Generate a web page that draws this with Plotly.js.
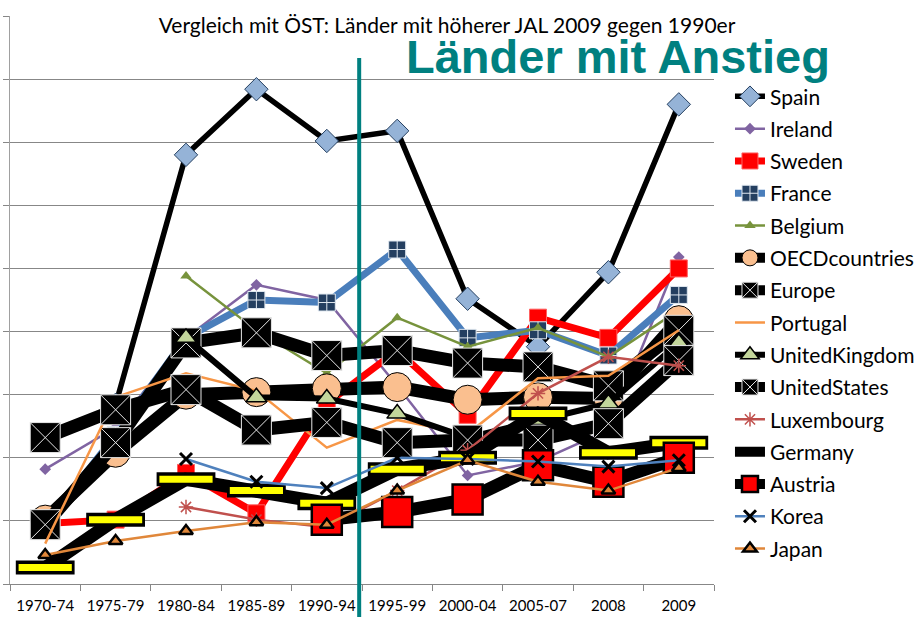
<!DOCTYPE html>
<html><head><meta charset="utf-8">
<script src="https://cdn.plot.ly/plotly-3.0.1.min.js"></script>
<style>html,body{margin:0;padding:0;background:#fff}#chart{width:922px;height:617px}</style>
</head><body><div id="chart"></div>
<script>
const categories = ["1970-74","1975-79","1980-84","1985-89","1990-94","1995-99","2000-04","2005-07","2008","2009"];
const spain    = [null,14.2,34.0,39.2,35.1,35.9,22.6,18.8,24.7,38.0];
const ireland  = [9.1,12.4,19.5,23.7,22.5,15.7,8.6,9.7,12.2,25.9];
const sweden   = [4.8,5.1,8.8,5.6,14.3,18.5,13.4,21.1,19.5,25.0];
const france   = [4.7,11.8,19.5,22.5,22.3,26.5,19.5,20.1,18.1,22.9];
const belgium  = [null,null,24.4,20.1,16.7,21.1,18.8,20.3,18.0,21.7];
const oecd     = [5.1,10.4,15.0,15.2,15.5,15.6,14.6,14.8,14.7,20.9];
const europe   = [4.7,11.2,19.1,19.9,18.1,18.5,17.5,17.2,15.7,20.1];
const portugal = [3.2,14.8,16.7,15.3,10.8,13.0,11.9,16.3,16.5,20.1];
const uk       = [null,null,19.5,14.8,14.7,13.5,11.6,13.0,14.3,19.1];
const us       = [11.6,13.8,15.4,12.2,12.8,11.2,11.4,11.4,12.7,17.7];
const luxembourg = [null,null,6.1,5.1,4.5,7.4,10.6,15.1,18.0,17.3];
const germany  = [1.3,5.1,8.3,7.4,6.4,9.1,10.0,13.5,10.4,11.2];
const austria  = [null,null,null,null,5.1,5.7,6.7,9.4,8.1,10.0];
const korea    = [null,null,9.9,8.1,7.6,10.0,9.9,9.7,9.3,9.8];
const japan    = [2.3,3.4,4.2,4.9,4.7,7.4,9.8,8.1,7.4,9.2];
const dividerPos = 4.46;

function tr(name, y, line, marker, extra) {
  const t = {type:'scatter', mode: marker ? 'lines+markers' : 'lines', name:name, x:categories, y:y,
    line:line, legendgroup:name, cliponaxis:false};
  if (marker) t.marker = marker;
  return Object.assign(t, extra||{});
}
const data = [
  tr('Spain', spain, {color:'#000000', width:5.5}, {symbol:'diamond', size:18, color:'#95B3D7', line:{color:'#243F60', width:1}}),
  tr('Ireland', ireland, {color:'#8064A2', width:2.5}, {symbol:'diamond', size:9, color:'#8064A2', line:{width:0}}),
  tr('Sweden', sweden, {color:'#FF0000', width:7}, {symbol:'square', size:17, color:'#FF0000', line:{color:'#FF6060', width:1}}),
  tr('France', france, {color:'#4A7EBB', width:7}, {symbol:'square-cross', size:17, color:'#243F60', line:{color:'#E0E8F0', width:1}}),
  tr('Belgium', belgium, {color:'#77933C', width:2.5}, {symbol:'triangle-up', size:10, color:'#77933C', line:{width:0}}),
  tr('OECDcountries', oecd, {color:'#000000', width:13}, {symbol:'circle', size:29, color:'#FABF8F', line:{color:'#000000', width:1}}),
  tr('Europe', europe, {color:'#000000', width:13}, {symbol:'square-x', size:30, color:'#000000', line:{color:'#E8E8E8', width:1}}),
  tr('Portugal', portugal, {color:'#F79646', width:2.5}, null),
  tr('UnitedKingdom', uk, {color:'#000000', width:6}, {symbol:'triangle-up', size:18, color:'#C3D69B', line:{color:'#000000', width:1.5}}),
  tr('UnitedStates', us, {color:'#000000', width:13}, {symbol:'square-x', size:30, color:'#000000', line:{color:'#E8E8E8', width:1}}),
  tr('Luxembourg', luxembourg, {color:'#C0504D', width:2.5}, {symbol:'asterisk', size:12, color:'#C0504D', line:{color:'#C0504D', width:1.5}}),
  tr('Germany', germany, {color:'#000000', width:13}, {symbol:'line-ew', size:42, color:'#000000', line:{color:'#000000', width:14}}),
  tr('Germany ', germany, {color:'#000000', width:0}, {symbol:'line-ew', size:38, color:'#FFFF00', line:{color:'#FFFF00', width:7}}, {mode:'markers', showlegend:false, hoverinfo:'skip'}),
  tr('Austria', austria, {color:'#000000', width:13}, {symbol:'square', size:30, color:'#FF0000', line:{color:'#000000', width:2.5}}),
  tr('Korea', korea, {color:'#4F81BD', width:2.5}, {symbol:'x-thin', size:12, color:'#000000', line:{color:'#000000', width:3}}),
  tr('Japan', japan, {color:'#E0873A', width:2.5}, {symbol:'triangle-up', size:12, color:'#E0873A', line:{color:'#000000', width:2.5}})
];

const layout = {
  width:922, height:617,
  margin:{l:10, r:208, t:16, b:33, autoexpand:false},
  paper_bgcolor:'#ffffff', plot_bgcolor:'#ffffff',
  font:{family:'Lato, "Open Sans", sans-serif', color:'#000000'},
  title:{text:'Vergleich mit ÖST: Länder mit höherer JAL 2009 gegen 1990er', x:0.4848, xanchor:'center', xref:'container', y:0.959, yanchor:'middle', yref:'container', font:{family:'Lato, sans-serif', size:21, color:'#000000'}},
  showlegend:true,
  legend:{x:1.0227, xanchor:'left', y:0.894, yanchor:'top', font:{family:'Lato, sans-serif', size:21, color:'#000000'}, bgcolor:'rgba(0,0,0,0)', tracegroupgap:2, itemwidth:30},
  xaxis:{type:'category', categoryarray:categories, range:[-0.5,9.5], showgrid:false, showline:true, linecolor:'#878787', linewidth:1,
    ticks:'outside', tickson:'boundaries', ticklen:6, tickcolor:'#878787', tickangle:0, ticklabelstandoff:8, tickfont:{family:'Lato, sans-serif', size:15, color:'#000000'}, zeroline:false, fixedrange:true},
  yaxis:{range:[0,45], dtick:5, showgrid:true, gridcolor:'#878787', gridwidth:1, showline:true, linecolor:'#A0A0A0', linewidth:1,
    ticks:'outside', ticklen:6, tickcolor:'#878787', showticklabels:false, zeroline:false, fixedrange:true},
  shapes:[{type:'line', xref:'x', yref:'paper', x0:dividerPos, x1:dividerPos, y0:-0.06, y1:0.926, line:{color:'#008080', width:4}, layer:'above'}],
  annotations:[{text:'<b>Länder mit Anstieg</b>', xref:'paper', yref:'paper', x:0.863, y:0.929, xanchor:'center', yanchor:'middle', showarrow:false,
    font:{family:'"Liberation Sans", Arial, sans-serif', size:47, color:'#008080'}}]
};
Plotly.newPlot('chart', data, layout, {displayModeBar:false, staticPlot:true});
</script>
</body></html>
